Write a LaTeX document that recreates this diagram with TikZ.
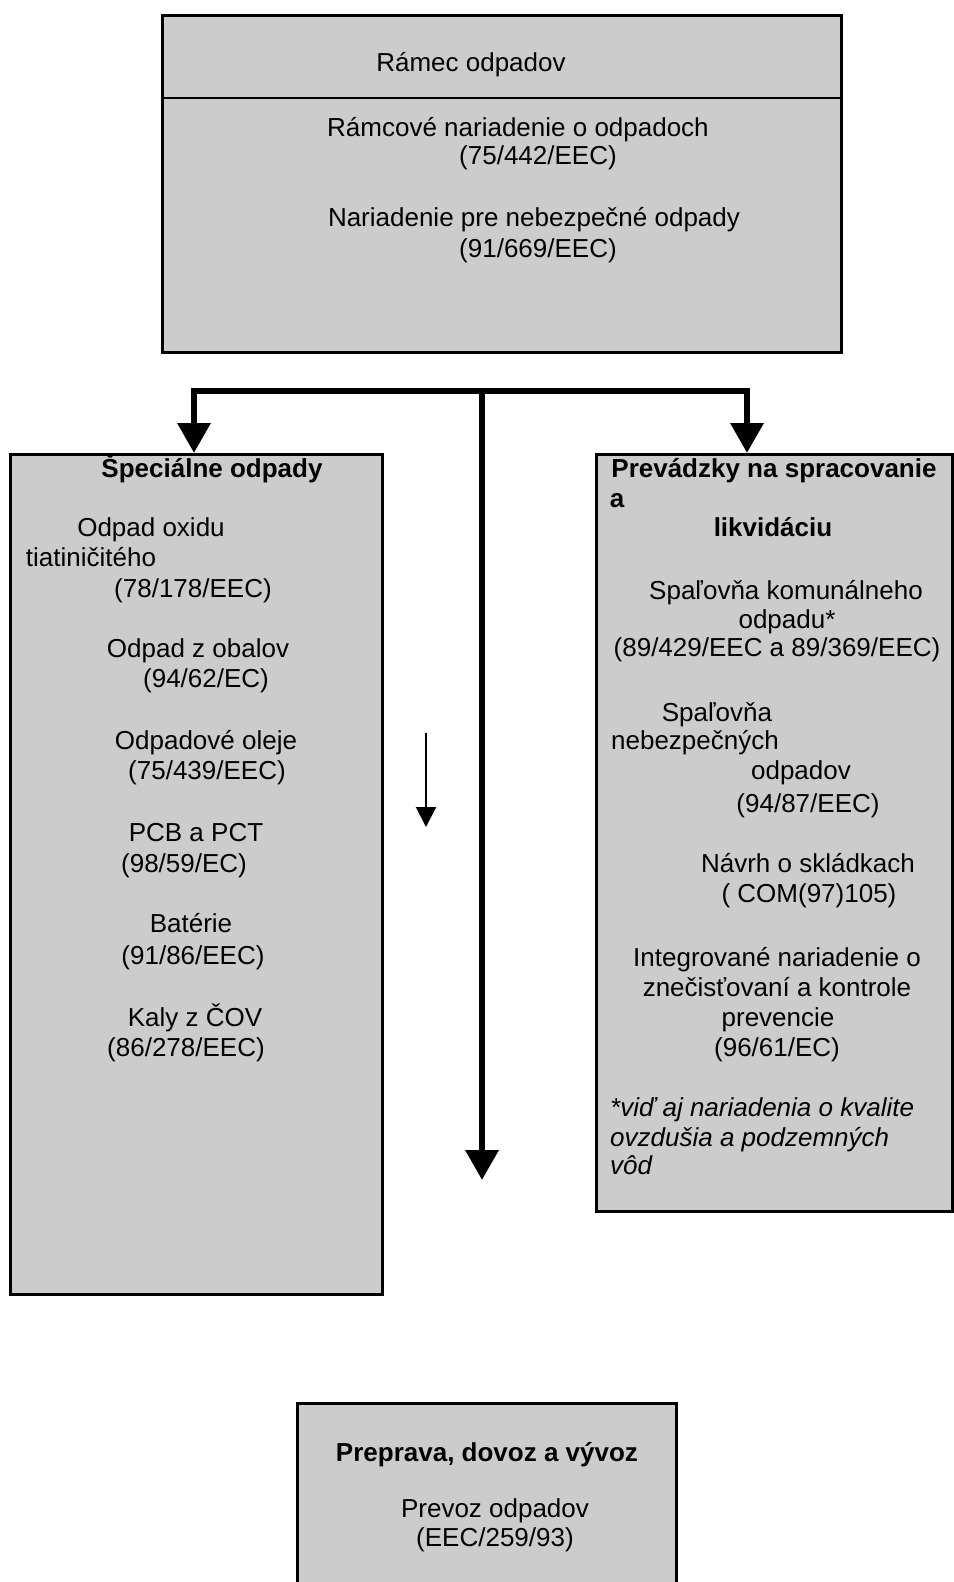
\documentclass[tikz,border=0pt]{standalone}
\usepackage{fontspec}
\setmainfont{Liberation Sans}
\usetikzlibrary{arrows.meta}
\definecolor{boxgray}{gray}{0.8}
\begin{document}
\begin{tikzpicture}[x=1pt, y=-1pt]
% one unit = one pixel of the page, y runs downwards
\useasboundingbox (0,0) rectangle (953,1582);

\tikzstyle{box}   = [draw, rectangle, fill=boxgray, line width=2.5pt, anchor=north west, inner sep=0pt] % grey frame
\tikzstyle{txt}   = [anchor=base, inner sep=0pt, font=\fontsize{26}{30}\selectfont] % one line of text
\tikzstyle{head}  = [txt, font=\fontsize{26}{30}\selectfont\bfseries] % bold title line
\tikzstyle{note}  = [txt, anchor=base west, font=\fontsize{26}{30}\selectfont\itshape] % footnote line
\tikzstyle{arrow} = [line width=6.5pt, -{Triangle[length=30pt, width=32pt]}] % thick arrow
\tikzstyle{thin}  = [line width=2pt, -{Triangle[length=20pt, width=20pt]}] % small arrow

% boxes
\node(ramec)[box, minimum width=679pt, minimum height=337pt] at (161,14){};
\node(spec)[box, minimum width=372pt, minimum height=840pt] at (9,453){};
\node(prev)[box, minimum width=356pt, minimum height=757pt] at (595,453){};
\node(prep)[box, minimum width=379pt, minimum height=200pt] at (296,1402){};

% split line in the top box
\coordinate(divy) at (0,98);
\draw[line width=2.5pt](ramec.west |- divy)--(ramec.east |- divy);

% top box text
\node(rm0)[txt] at (471,71){Rámec odpadov};
\foreach \x/\y/\lbl [count=\i] in {518/136/{Rámcové nariadenie o odpadoch}, 538/164/{(75/442/EEC)},
	534/226/{Nariadenie pre nebezpečné odpady}, 538/257/{(91/669/EEC)}}
	\node(rm\i)[txt] at (\x,\y){\lbl};

% special waste
\node(sp0)[head] at (212,477){Špeciálne odpady};
\foreach \x/\y/\lbl [count=\i] in {151/536/{Odpad oxidu}, 91/566/{tiatiničitého}, 193/597/{(78/178/EEC)},
	198/657/{Odpad z obalov}, 206/687/{(94/62/EC)},
	206/749/{Odpadové oleje}, 207/779/{(75/439/EEC)},
	196/841/{PCB a PCT}, 184/872/{(98/59/EC)},
	191/932/{Batérie}, 193/964/{(91/86/EEC)},
	195/1026/{Kaly z ČOV}, 186/1056/{(86/278/EEC)}}
	\node(sp\i)[txt] at (\x,\y){\lbl};

% treatment and disposal
\node(pv0)[head] at (774,477){Prevádzky na spracovanie};
\node(pva)[head] at (617,507){a};
\node(pvb)[head] at (773,536){likvidáciu};
\foreach \x/\y/\lbl [count=\i] in {786/599/{Spaľovňa komunálneho}, 787/628/{odpadu*}, 777/656/{(89/429/EEC a 89/369/EEC)},
	717/721/{Spaľovňa}, 695/749/{nebezpečných}, 801/779/{odpadov}, 808/812/{(94/87/EEC)},
	808/872/{Návrh o skládkach}, 809/902/{( COM(97)105)},
	777/966/{Integrované nariadenie o}, 777/996/{znečisťovaní a kontrole}, 778/1026/{prevencie}, 777/1056/{(96/61/EC)}}
	\node(pv\i)[txt] at (\x,\y){\lbl};
\node(pn1)[note] at (610,1116){*viď aj nariadenia o kvalite};
\node(pn2)[note] at (610,1146){ovzdušia a podzemných};
\node(pn3)[note] at (610,1174){vôd};

% transport
\node(pr0)[head] at (487,1461){Preprava, dovoz a vývoz};
\node(pr1)[txt] at (495,1517){Prevoz odpadov};
\node(pr2)[txt] at (495,1546){(EEC/259/93)};

% arrows
\coordinate(jl) at (194,391);
\coordinate(jm) at (482,391);
\coordinate(jr) at (747,391);
\coordinate(mend) at (482,1180);
\draw[arrow](jm)--(jl)--(jl |- spec.north);
\draw[arrow](jm)--(jr)--(jr |- prev.north);
\draw[arrow](jm)--(mend);

\coordinate(ts) at (426,733);
\coordinate(te) at (426,827);
\draw[thin](ts)--(te);
\end{tikzpicture}
\end{document}
